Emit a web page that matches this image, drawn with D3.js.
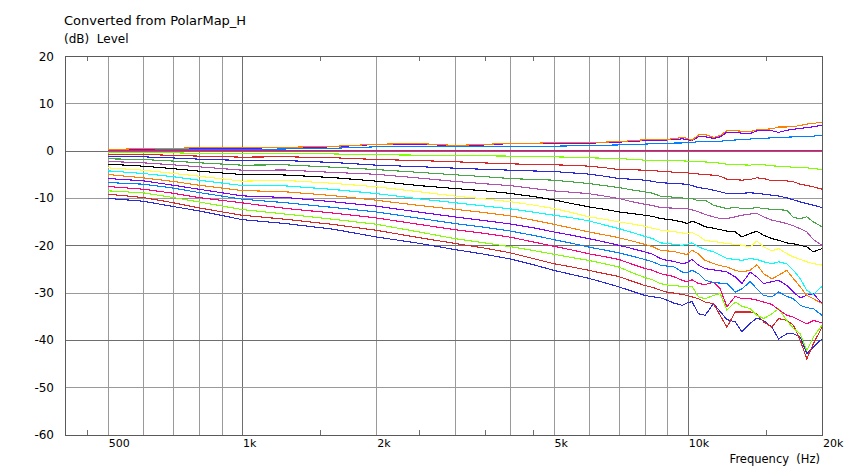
<!DOCTYPE html>
<html><head><meta charset="utf-8">
<script src="https://cdn.jsdelivr.net/npm/d3@7"></script>
<style>
html,body{margin:0;padding:0;background:#fff;}
svg{display:block;}
text{font-family:"DejaVu Sans",Verdana,sans-serif;fill:#000;}
</style></head><body>
<svg id="chart" width="844" height="469"></svg>
<script>
// ---------- data ----------
const freqs = [500,600,700,800,1000,1250,1600,2000,2500,3000,3500,4000,4500,5000,5500,6000,6500,7000,7500,8000,8340,
  8680,8980,9290,9710,9960,10220,10570,10940,11420,11820,12240,12780,13230,13800,14290,14790,15440,15980,16680,17260,17870,18490,19130,20000];

const xLabelValues = [500,1000,2000,5000,10000,20000];
const xLabelTexts  = ["500","1k","2k","5k","10k","20k"];
const xGridValues  = [500,600,700,800,900,1000,2000,3000,4000,5000,6000,7000,8000,9000,10000];
const xMinorTicks  = [450,1500,2500,3500,4500,15000];
const yTickValues  = [20,10,0,-10,-20,-30,-40,-50,-60];

const pink0 = freqs.map(() => 0);
const orangeTop = [0.2,0.45,0.5,0.6,0.75,0.7,0.9,1.35,1.5,1.1,1.3,1.6,1.55,1.7,1.7,1.7,1.8,1.9,2.1,2.3,2.3,
  2.36,2.4,2.5,2.79,2.6,2.2,3.3,3.4,2.8,3.2,4.2,4.2,4.1,4.0,4.4,4.5,4.6,5.0,5.0,5.1,5.3,5.6,5.75,6.05];
const violetTop = [0.25,0.32,0.4,0.46,0.53,0.6,0.8,1.3,1.4,1.0,1.2,1.5,1.5,1.5,1.5,1.55,1.7,1.8,1.95,2.1,2.2,
  2.22,2.25,2.3,2.5,2.36,2.08,2.93,2.93,2.57,2.9,3.9,3.8,3.7,3.6,4.2,4.2,4.2,3.85,4.3,4.5,4.7,4.85,5.04,5.4];
const dodgerTop = [0.1,0.1,0.15,0.2,0.25,0.35,0.5,0.8,0.85,0.8,0.85,0.95,0.95,0.95,1.0,1.1,1.15,1.2,1.3,1.38,1.45,
  1.52,1.55,1.6,1.62,1.66,1.75,1.87,1.9,1.95,2.0,2.1,2.25,2.36,2.45,2.57,2.6,2.7,2.79,2.85,2.9,2.93,3.0,3.07,3.28];
const chartreuse1 = [-0.46,-0.35,-0.45,-0.6,-0.6,-0.6,-0.7,-0.88,-0.95,-1.0,-1.1,-1.16,-1.25,-1.31,-1.4,-1.52,-1.6,-1.66,-1.85,-2.01,-2.0,
  -2.01,-2.05,-2.1,-2.15,-2.22,-2.25,-2.3,-2.4,-2.5,-2.65,-2.86,-2.9,-3.0,-3.07,-2.86,-3.0,-3.2,-3.3,-3.42,-3.5,-3.55,-3.63,-3.8,-3.99];
const red1 = [-0.81,-0.81,-1.0,-1.16,-1.38,-1.3,-1.5,-1.87,-2.1,-2.35,-2.6,-2.8,-2.9,-3.0,-3.1,-3.28,-3.6,-3.99,-4.05,-4.13,-4.25,
  -4.34,-4.45,-4.55,-4.65,-4.69,-4.8,-4.95,-5.04,-5.2,-5.4,-6.03,-6.15,-6.24,-6.1,-5.75,-5.9,-6.38,-6.38,-6.4,-6.6,-7.09,-7.35,-7.65,-8.15];
const blue1 = [-1.16,-1.31,-1.55,-1.8,-2.08,-2.1,-2.5,-3.07,-3.4,-3.7,-3.95,-4.13,-4.3,-4.41,-4.7,-4.97,-5.4,-5.89,-6.05,-6.24,-6.5,
  -6.8,-6.85,-6.95,-7.05,-7.09,-7.4,-7.8,-8.0,-8.36,-8.7,-9.07,-9.07,-9.0,-8.92,-9.0,-9.2,-9.42,-9.6,-9.98,-10.4,-10.83,-11.2,-11.53,-12.03];
const green1 = [-1.73,-1.87,-2.2,-2.57,-3.07,-3.0,-3.5,-4.0,-4.6,-5.1,-5.5,-5.9,-6.1,-6.24,-6.6,-6.95,-7.4,-7.8,-8.3,-8.71,-9.0,
  -9.63,-9.7,-9.85,-10.0,-10.12,-10.12,-10.62,-10.5,-11.53,-11.89,-12.24,-12.0,-12.24,-12.24,-12.03,-12.24,-12.4,-12.5,-12.6,-14.15,-14.36,-14.0,-15.06,-16.1];
const orchid1 = [-2.29,-2.57,-3.0,-3.42,-4.13,-4.1,-4.6,-5.0,-5.8,-6.5,-7.0,-7.4,-8.0,-8.5,-8.8,-9.1,-9.6,-10.12,-10.8,-11.32,-11.6,
  -12.03,-12.1,-12.15,-12.2,-12.24,-12.5,-12.95,-13.5,-14.0,-14.36,-14.36,-14.0,-13.65,-13.4,-13.3,-14.0,-14.7,-15.0,-15.41,-15.9,-16.5,-17.18,-18.8,-20.0];
const black1 = [-2.86,-3.28,-3.8,-4.34,-5.04,-5.15,-5.7,-6.45,-7.4,-8.0,-8.5,-9.05,-9.7,-10.4,-11.2,-11.89,-12.4,-12.94,-13.3,-13.65,-13.9,
  -14.36,-14.5,-14.7,-15.06,-15.41,-14.92,-15.4,-16.1,-16.4,-16.7,-17.0,-17.2,-18.24,-17.5,-17.04,-17.9,-18.6,-18.94,-19.5,-19.7,-20.0,-20.35,-21.4,-20.7];
const yellow1 = [-3.63,-4.13,-4.8,-5.4,-6.45,-6.3,-6.9,-7.65,-8.7,-9.6,-10.2,-10.8,-11.5,-12.24,-13.1,-14.0,-14.5,-15.06,-15.5,-15.98,-16.4,
  -16.8,-16.97,-17.1,-17.4,-17.53,-17.3,-18.0,-19.0,-19.2,-19.4,-19.65,-19.8,-20.0,-20.35,-19.08,-20.35,-21.2,-20.7,-21.76,-22.47,-23.0,-23.5,-23.9,-24.2];
const cyan1 = [-4.27,-4.83,-5.5,-6.24,-7.37,-7.45,-8.2,-9.07,-10.2,-11.0,-11.7,-12.3,-13.0,-13.65,-14.2,-14.85,-15.7,-16.47,-17.3,-18.1,-18.6,
  -19.5,-19.6,-19.79,-20.0,-19.79,-19.5,-20.35,-20.9,-21.4,-22.1,-22.8,-23.0,-23.2,-22.8,-23.0,-23.5,-23.9,-23.5,-23.9,-25.3,-27.06,-29.5,-30.4,-28.68];
const orange1 = [-5.04,-5.75,-6.5,-7.3,-8.43,-8.7,-9.5,-10.48,-11.6,-12.4,-13.1,-13.8,-14.7,-15.56,-16.4,-17.2,-17.8,-18.4,-19.1,-19.8,-20.3,
  -21.06,-21.2,-21.3,-21.76,-21.95,-21.06,-21.85,-23.2,-23.88,-24.3,-24.6,-25.3,-25.65,-25.3,-24.1,-26.0,-27.1,-26.35,-25.3,-27.06,-28.8,-30.6,-31.3,-32.35];
const violet1 = [-5.89,-6.38,-7.3,-8.15,-9.56,-9.9,-10.8,-11.73,-13.0,-14.0,-14.8,-15.5,-16.3,-17.18,-17.9,-18.6,-19.3,-20.0,-20.7,-21.4,-21.9,
  -22.8,-23.2,-23.4,-23.88,-23.7,-23.0,-24.2,-24.94,-25.2,-25.4,-25.65,-26.7,-28.1,-25.65,-26.7,-28.1,-27.7,-27.4,-28.5,-29.9,-31.1,-30.6,-30.2,-32.35];
const dodger1 = [-6.74,-7.09,-7.9,-8.85,-10.26,-11.0,-12.0,-12.95,-14.3,-15.4,-16.2,-17.0,-17.9,-18.8,-19.6,-20.4,-21.0,-21.6,-22.3,-23.0,-23.5,
  -24.2,-24.4,-24.5,-25.65,-25.8,-25.3,-26.0,-27.4,-27.9,-28.0,-28.1,-29.9,-29.2,-27.7,-29.2,-30.6,-30.9,-29.9,-30.8,-31.3,-32.7,-33.2,-33.4,-34.8];
const pink2 = [-7.58,-8.15,-9.0,-9.91,-11.04,-12.2,-13.2,-14.22,-15.6,-16.7,-17.5,-18.3,-19.3,-20.21,-21.0,-21.8,-22.4,-23.0,-24.0,-24.9,-25.3,
  -26.0,-26.3,-26.6,-27.4,-27.7,-27.3,-28.1,-28.3,-27.8,-29.2,-33.0,-30.8,-31.3,-31.3,-31.6,-32.0,-32.5,-33.6,-34.8,-35.2,-35.9,-36.6,-35.9,-36.4];
const chartreuse2 = [-8.5,-8.92,-9.9,-10.83,-12.45,-13.4,-14.5,-15.56,-17.2,-18.6,-19.5,-20.3,-21.1,-21.9,-22.6,-23.2,-23.9,-24.6,-25.8,-26.8,-27.3,
  -28.1,-28.4,-28.5,-28.7,-28.65,-28.7,-30.9,-31.3,-30.6,-30.2,-33.7,-32.0,-32.9,-33.4,-34.8,-35.5,-34.5,-33.4,-35.9,-37.6,-38.7,-42.2,-39.4,-36.9];
const red2 = [-9.2,-9.91,-11.0,-12.1,-13.65,-14.5,-15.6,-16.83,-18.4,-19.6,-20.6,-21.6,-22.8,-23.88,-24.6,-25.3,-26.0,-26.6,-27.6,-28.5,-28.9,
  -29.5,-29.9,-30.1,-30.4,-30.6,-30.9,-31.3,-32.0,-32.35,-34.8,-37.3,-34.1,-34.1,-34.1,-34.5,-36.2,-37.3,-35.5,-35.9,-36.9,-40.1,-44.0,-40.8,-37.3];
const blue2 = [-10.1,-10.69,-11.8,-12.73,-14.57,-15.4,-16.6,-18.24,-19.6,-20.9,-21.9,-22.9,-24.1,-25.29,-26.2,-27.0,-27.9,-28.8,-29.7,-30.6,-30.9,
  -31.1,-31.6,-32.2,-32.7,-32.2,-31.9,-34.5,-34.8,-32.35,-34.0,-35.7,-36.2,-38.3,-36.5,-35.4,-35.9,-37.3,-39.8,-38.7,-38.7,-39.4,-42.9,-41.5,-39.8];

const seriesList = [
  {values: blue2, color: "#2a2ad8"},
  {values: red2, color: "#d82828"},
  {values: chartreuse2, color: "#80ff00"},
  {values: pink2, color: "#ff0080"},
  {values: dodger1, color: "#0080ff"},
  {values: violet1, color: "#8000ff"},
  {values: orange1, color: "#ff8000"},
  {values: cyan1, color: "#00ffff"},
  {values: yellow1, color: "#ffff40"},
  {values: black1, color: "#000000"},
  {values: orchid1, color: "#b050b0"},
  {values: green1, color: "#48a848"},
  {values: blue1, color: "#2a2ad8"},
  {values: red1, color: "#d82828"},
  {values: chartreuse1, color: "#80ff00"},
  {values: dodgerTop, color: "#0080ff"},
  {values: pink0, color: "#ff0080"},
  {values: violetTop, color: "#8000ff"},
  {values: orangeTop, color: "#ff8000"}
];

// ---------- chart ----------
const svg = d3.select("#chart");
const plotL = 64.5, plotR = 822, plotT = 56, plotB = 434.5;
const x = d3.scaleLog().domain([400, 20000]).range([plotL, plotR]);
const y = d3.scaleLinear().domain([-60, 20]).range([plotB, plotT]);
const px = v => Math.round(v) + 0.5;

svg.append("rect").attr("x",0).attr("y",0).attr("width",844).attr("height",469).attr("fill","#fff");

// grid
const grid = svg.append("g").attr("shape-rendering","crispEdges");
grid.selectAll("line.gx").data(xGridValues).join("line")
  .attr("x1", d => px(x(d))).attr("x2", d => px(x(d)))
  .attr("y1", plotT).attr("y2", plotB)
  .attr("stroke", d => (d === 1000 || d === 10000) ? "#6e6e6e" : "#9a9a9a").attr("stroke-width", 1);
grid.selectAll("line.gy").data(yTickValues).join("line")
  .attr("x1", plotL).attr("x2", plotR)
  .attr("y1", d => px(y(d))).attr("y2", d => px(y(d)))
  .attr("stroke", d => (d % 20 === 0) ? "#6e6e6e" : "#9a9a9a").attr("stroke-width", 1);

// minor ticks (top & bottom)
grid.selectAll("line.mb").data(xMinorTicks).join("line")
  .attr("x1", d => px(x(d))).attr("x2", d => px(x(d)))
  .attr("y1", plotB).attr("y2", plotB - 5)
  .attr("stroke", "#6e6e6e");
grid.selectAll("line.mt").data(xMinorTicks).join("line")
  .attr("x1", d => px(x(d))).attr("x2", d => px(x(d)))
  .attr("y1", plotT).attr("y2", plotT + 5)
  .attr("stroke", "#6e6e6e");

// curves
const line = d3.line().x((d,i) => x(freqs[i])).y(d => y(d));
svg.append("g").selectAll("path").data(seriesList).join("path")
  .attr("d", s => line(s.values))
  .attr("fill","none").attr("stroke", s => s.color).attr("stroke-width", 1.1)
  .attr("shape-rendering","crispEdges");

// frame
svg.append("rect").attr("x", px(plotL)).attr("y", px(plotT))
  .attr("width", Math.round(plotR) - Math.round(plotL)).attr("height", Math.round(plotB) - Math.round(plotT))
  .attr("fill","none").attr("stroke","#5a5a5a").attr("shape-rendering","crispEdges");

// y labels
svg.append("g").selectAll("text").data(yTickValues).join("text")
  .attr("x", 54).attr("y", d => y(d) + 4.5)
  .attr("text-anchor","end").attr("font-size", 12).text(d => d);

// x labels
svg.append("g").selectAll("text").data(xLabelValues).join("text")
  .attr("x", d => x(d) + 1).attr("y", 447)
  .attr("font-size", 11).text((d,i) => xLabelTexts[i]);

svg.append("text").attr("x", 820).attr("y", 463).attr("text-anchor","end")
  .attr("font-size", 11.5).style("white-space","pre").text("Frequency  (Hz)");

svg.append("text").attr("x", 64).attr("y", 25).attr("font-size", 13).text("Converted from PolarMap_H");
svg.append("text").attr("x", 64).attr("y", 43).attr("font-size", 12).style("white-space","pre").text("(dB)  Level");
</script>
</body></html>
